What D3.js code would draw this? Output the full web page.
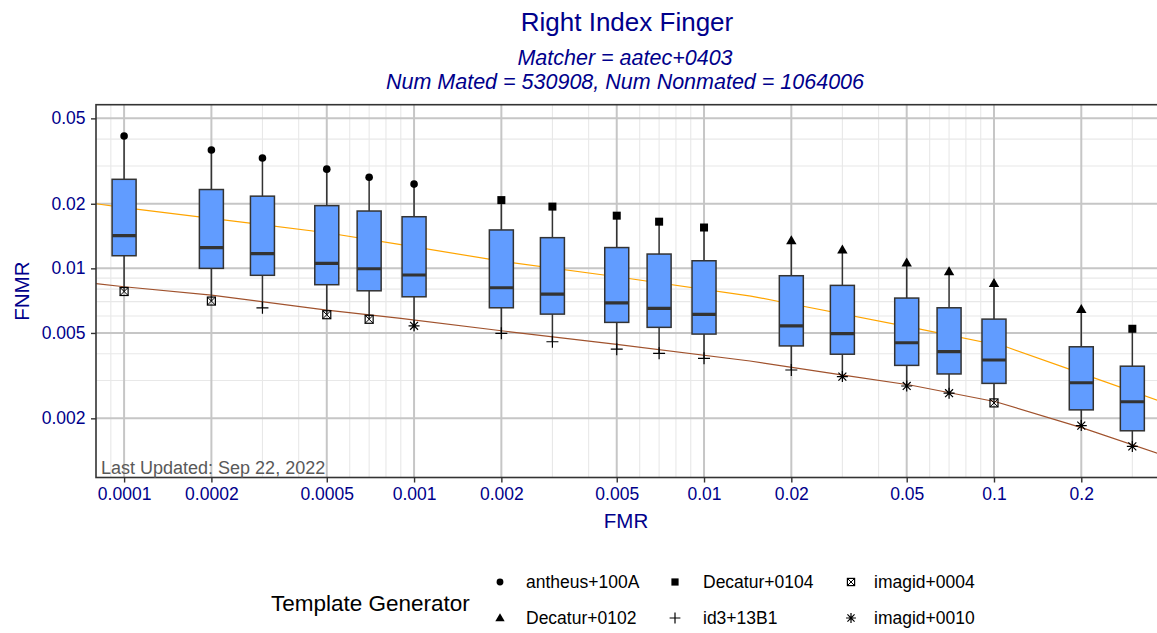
<!DOCTYPE html>
<html>
<head>
<meta charset="utf-8">
<script src="https://cdn.jsdelivr.net/npm/d3@7"></script>
<style>
  body { margin: 0; background: #fff; }
  text { font-family: "Liberation Sans", Arial, sans-serif; }
</style>
</head>
<body>
<div id="chart"></div>
<script>
'use strict'

////////////////////////////////////
////////////// data ////////////////
////////////////////////////////////

// FMR operating points of the boxes
const fmr = [0.0001, 0.0002, 0.0003, 0.0005, 0.0007, 0.001, 0.002, 0.003, 0.005,
    0.007, 0.01, 0.02, 0.03, 0.05, 0.07, 0.1, 0.2, 0.3]

// FNMR across template generators at each FMR
const fnmrMax = [0.0414, 0.0356, 0.0327, 0.0290, 0.0266, 0.0247, 0.0208, 0.0194, 0.0176,
    0.0165, 0.0155, 0.01345, 0.0122, 0.0106, 0.00964, 0.00851, 0.00644, 0.00523]
const fnmrQ3 = [0.0260, 0.0233, 0.0217, 0.0196, 0.0185, 0.0174, 0.0151, 0.0139, 0.0125,
    0.01166, 0.01085, 0.00924, 0.00833, 0.00727, 0.00655, 0.0058, 0.00431, 0.0035]
const fnmrMed = [0.0142, 0.0125, 0.0117, 0.01055, 0.00996, 0.00931, 0.00812, 0.00759, 0.00691,
    0.00651, 0.0061, 0.00539, 0.00496, 0.0045, 0.00409, 0.00374, 0.00293, 0.00239]
const fnmrQ1 = [0.01145, 0.0100, 0.00928, 0.00839, 0.00786, 0.00737, 0.00655, 0.00612, 0.0056,
    0.00531, 0.00494, 0.00435, 0.00398, 0.00353, 0.00322, 0.00291, 0.00219, 0.00175]
const fnmrMin = [0.0078, 0.00704, 0.00655, 0.00608, 0.00579, 0.0054, 0.00498, 0.00455, 0.0042,
    0.00402, 0.00381, 0.00336, 0.00313, 0.00283, 0.00262, 0.00236, 0.00185, 0.00148]

// which generator gives the worst / best FNMR
const maxGen = ['antheus+100A', 'antheus+100A', 'antheus+100A', 'antheus+100A', 'antheus+100A',
    'antheus+100A', 'Decatur+0104', 'Decatur+0104', 'Decatur+0104', 'Decatur+0104', 'Decatur+0104',
    'Decatur+0102', 'Decatur+0102', 'Decatur+0102', 'Decatur+0102', 'Decatur+0102', 'Decatur+0102',
    'Decatur+0104']
const minGen = ['imagid+0004', 'imagid+0004', 'id3+13B1', 'imagid+0004', 'imagid+0004',
    'imagid+0010', 'id3+13B1', 'id3+13B1', 'id3+13B1', 'id3+13B1', 'id3+13B1', 'id3+13B1',
    'imagid+0010', 'imagid+0010', 'imagid+0010', 'imagid+0004', 'imagid+0010', 'imagid+0010']

// legend order (column-wise, 2 rows)
const generators = ['antheus+100A', 'Decatur+0102', 'Decatur+0104', 'id3+13B1',
    'imagid+0004', 'imagid+0010']

// DET curves
const orangeFmr = [0.00008, 0.0001, 0.0005, 0.0009, 0.002, 0.005, 0.0145, 0.0183, 0.054,
    0.11, 0.2, 0.368]
const orangeFnmr = [0.0200, 0.0192, 0.01465, 0.0129, 0.0108, 0.00914, 0.00743, 0.00699, 0.00525,
    0.00431, 0.00324, 0.00242]
const brownFmr = [0.00008, 0.0001, 0.0002, 0.0005, 0.0009, 0.002, 0.005, 0.0144, 0.0302, 0.0513,
    0.1014, 0.203, 0.368]
const brownFnmr = [0.00848, 0.00821, 0.00751, 0.00639, 0.00585, 0.00512, 0.00442, 0.0037,
    0.00318, 0.00286, 0.00239, 0.0018, 0.00137]

// ticks
const xTicks = [0.0001, 0.0002, 0.0005, 0.001, 0.002, 0.005, 0.01, 0.02, 0.05, 0.1, 0.2]
const xTickLabels = ['0.0001', '0.0002', '0.0005', '0.001', '0.002', '0.005', '0.01', '0.02',
    '0.05', '0.1', '0.2']
const yTicks = [0.002, 0.005, 0.01, 0.02, 0.05]
const yTickLabels = ['0.002', '0.005', '0.01', '0.02', '0.05']
const xMinor = [0.00009, 0.0003, 0.0004, 0.0006, 0.0007, 0.0008, 0.0009, 0.003, 0.004, 0.006,
    0.007, 0.008, 0.009, 0.03, 0.04, 0.06, 0.07, 0.08, 0.09, 0.3]
const yMinor = [0.003, 0.004, 0.006, 0.007, 0.008, 0.009, 0.03, 0.04]

////////////////////////////////////
//////////// svg setup /////////////
////////////////////////////////////

const svgWidth = 1157
const svgHeight = 633
const panel = { left: 96, right: 1158, top: 104.7, bottom: 477.5 }
const blue = '#00008B'
const ink = '#333333'

const svg = d3.select('#chart')
    .append('svg')
    .attr('width', svgWidth)
    .attr('height', svgHeight)

const x = d3.scaleLog().domain([0.00008, 0.3678]).range([panel.left, panel.right])
const y = d3.scaleLog().domain([0.00106, 0.0579]).range([panel.bottom, panel.top])

svg.append('clipPath').attr('id', 'clip')
    .append('rect')
    .attr('x', panel.left).attr('y', panel.top)
    .attr('width', panel.right - panel.left).attr('height', panel.bottom - panel.top)

const plot = svg.append('g').attr('clip-path', 'url(#clip)')

// grid
plot.append('g').selectAll('line').data(xMinor).join('line')
    .attr('x1', d => x(d)).attr('x2', d => x(d))
    .attr('y1', panel.top).attr('y2', panel.bottom)
    .attr('stroke', '#e8e8e8').attr('stroke-width', 1.1)
plot.append('g').selectAll('line').data(yMinor).join('line')
    .attr('y1', d => y(d)).attr('y2', d => y(d))
    .attr('x1', panel.left).attr('x2', panel.right)
    .attr('stroke', '#e8e8e8').attr('stroke-width', 1.1)
plot.append('g').selectAll('line').data(xTicks).join('line')
    .attr('x1', d => x(d)).attr('x2', d => x(d))
    .attr('y1', panel.top).attr('y2', panel.bottom)
    .attr('stroke', '#c6c6c6').attr('stroke-width', 2)
plot.append('g').selectAll('line').data(yTicks).join('line')
    .attr('y1', d => y(d)).attr('y2', d => y(d))
    .attr('x1', panel.left).attr('x2', panel.right)
    .attr('stroke', '#c6c6c6').attr('stroke-width', 2)

// DET curves
const line = d3.line().x(d => x(d[0])).y(d => y(d[1]))
plot.append('path')
    .datum(d3.zip(orangeFmr, orangeFnmr))
    .attr('d', line)
    .attr('fill', 'none').attr('stroke', '#FFA500').attr('stroke-width', 1.2)
plot.append('path')
    .datum(d3.zip(brownFmr, brownFnmr))
    .attr('d', line)
    .attr('fill', 'none').attr('stroke', '#A0522D').attr('stroke-width', 1.2)

////////////////////////////////////
//////////// boxplots //////////////
////////////////////////////////////

const boxes = fmr.map((f, i) => ({
    f: f, max: fnmrMax[i], q3: fnmrQ3[i], med: fnmrMed[i], q1: fnmrQ1[i], min: fnmrMin[i],
    maxGen: maxGen[i], minGen: minGen[i]
}))
const halfW = 12

const bx = plot.append('g').selectAll('g').data(boxes).join('g')

bx.append('line')
    .attr('x1', d => x(d.f)).attr('x2', d => x(d.f))
    .attr('y1', d => y(d.max)).attr('y2', d => y(d.min))
    .attr('stroke', ink).attr('stroke-width', 1.5)
bx.append('rect')
    .attr('x', d => x(d.f) - halfW).attr('width', halfW * 2)
    .attr('y', d => y(d.q3)).attr('height', d => y(d.q1) - y(d.q3))
    .attr('fill', '#619CFF').attr('stroke', ink).attr('stroke-width', 1.5)
bx.append('line')
    .attr('x1', d => x(d.f) - halfW).attr('x2', d => x(d.f) + halfW)
    .attr('y1', d => y(d.med)).attr('y2', d => y(d.med))
    .attr('stroke', ink).attr('stroke-width', 3.2)

// marker shapes like ggplot pch 16, 15, 17, 3, 7, 8
function drawShape(g, name, cx, cy, s) {
    const k = s || 1
    if (name === 'antheus+100A') {
        g.append('circle').attr('cx', cx).attr('cy', cy).attr('r', 3.8 * k).attr('fill', '#000')
    } else if (name === 'Decatur+0104') {
        g.append('rect').attr('x', cx - 4 * k).attr('y', cy - 4 * k)
            .attr('width', 8 * k).attr('height', 8 * k).attr('fill', '#000')
    } else if (name === 'Decatur+0102') {
        const h = 9 * k, w = 10.4 * k
        g.append('path')
            .attr('d', `M${cx},${cy - h * 0.6}L${cx + w / 2},${cy + h * 0.4}L${cx - w / 2},${cy + h * 0.4}Z`)
            .attr('fill', '#000')
    } else if (name === 'id3+13B1') {
        const r = 6 * k
        g.append('path')
            .attr('d', `M${cx - r},${cy}H${cx + r}M${cx},${cy - r}V${cy + r}`)
            .attr('stroke', '#000').attr('stroke-width', 1.2).attr('fill', 'none')
    } else if (name === 'imagid+0004') {
        const r = 4 * k
        g.append('rect').attr('x', cx - r).attr('y', cy - r)
            .attr('width', 2 * r).attr('height', 2 * r)
            .attr('fill', 'none').attr('stroke', '#000').attr('stroke-width', 1.2)
        g.append('path')
            .attr('d', `M${cx - r},${cy - r}L${cx + r},${cy + r}M${cx + r},${cy - r}L${cx - r},${cy + r}`)
            .attr('stroke', '#000').attr('stroke-width', 1).attr('fill', 'none')
    } else {
        const r = 5.5 * k, q = r * 0.72
        g.append('path')
            .attr('d', `M${cx - r},${cy}H${cx + r}M${cx},${cy - r}V${cy + r}` +
                `M${cx - q},${cy - q}L${cx + q},${cy + q}M${cx + q},${cy - q}L${cx - q},${cy + q}`)
            .attr('stroke', '#000').attr('stroke-width', 1.2).attr('fill', 'none')
    }
}

bx.each(function (d) {
    const g = d3.select(this)
    drawShape(g, d.maxGen, x(d.f), y(d.max))
    drawShape(g, d.minGen, x(d.f), y(d.min))
})

// panel border
svg.append('rect')
    .attr('x', panel.left).attr('y', panel.top)
    .attr('width', panel.right - panel.left).attr('height', panel.bottom - panel.top)
    .attr('fill', 'none').attr('stroke', ink).attr('stroke-width', 1.6)

svg.append('text')
    .attr('x', 101).attr('y', 474)
    .attr('font-size', 18).attr('fill', '#595959')
    .text('Last Updated: Sep 22, 2022')

////////////////////////////////////
////////////// axes ////////////////
////////////////////////////////////

const xAxis = svg.append('g')
    .attr('transform', `translate(0,${panel.bottom})`)
    .call(d3.axisBottom(x).tickValues(xTicks)
        .tickFormat((d, i) => xTickLabels[i]).tickSize(5).tickPadding(5))
const yAxis = svg.append('g')
    .attr('transform', `translate(${panel.left},0)`)
    .call(d3.axisLeft(y).tickValues(yTicks)
        .tickFormat((d, i) => yTickLabels[i]).tickSize(5).tickPadding(5.5))

;[xAxis, yAxis].forEach(a => {
    a.select('.domain').remove()
    a.selectAll('.tick line').attr('stroke', ink).attr('stroke-width', 1.4)
    a.selectAll('.tick text').attr('fill', blue).attr('font-size', 17.5)
        .attr('font-family', '"Liberation Sans", Arial, sans-serif')
})

svg.append('text')
    .attr('x', 626).attr('y', 528)
    .attr('text-anchor', 'middle').attr('font-size', 20.5).attr('fill', blue)
    .text('FMR')
svg.append('text')
    .attr('transform', `translate(29,${(panel.top + panel.bottom) / 2}) rotate(-90)`)
    .attr('text-anchor', 'middle').attr('font-size', 20.5).attr('fill', blue)
    .text('FNMR')

////////////////////////////////////
///////////// titles ///////////////
////////////////////////////////////

svg.append('text')
    .attr('x', 627).attr('y', 31)
    .attr('text-anchor', 'middle').attr('font-size', 26).attr('fill', blue)
    .text('Right Index Finger')
svg.append('text')
    .attr('x', 625).attr('y', 65)
    .attr('text-anchor', 'middle').attr('font-size', 21.5).attr('font-style', 'italic').attr('fill', blue)
    .text('Matcher = aatec+0403')
svg.append('text')
    .attr('x', 625).attr('y', 89)
    .attr('text-anchor', 'middle').attr('font-size', 21.5).attr('font-style', 'italic').attr('fill', blue)
    .text('Num Mated = 530908, Num Nonmated = 1064006')

////////////////////////////////////
///////////// legend ///////////////
////////////////////////////////////

const legend = svg.append('g')
legend.append('text')
    .attr('x', 271).attr('y', 611)
    .attr('font-size', 22.5).attr('fill', '#000')
    .text('Template Generator')

const colKey = [500, 675, 851]
const colLabel = [526, 703, 874]
const rowY = [582, 618]

generators.forEach((name, i) => {
    const col = Math.floor(i / 2), row = i % 2
    const item = legend.append('g')
    drawShape(item, name, colKey[col], rowY[row], 0.9)
    item.append('text')
        .attr('x', colLabel[col]).attr('y', rowY[row])
        .attr('dy', '0.35em')
        .attr('font-size', 17.5).attr('fill', '#000')
        .text(name)
})
</script>
</body>
</html>
